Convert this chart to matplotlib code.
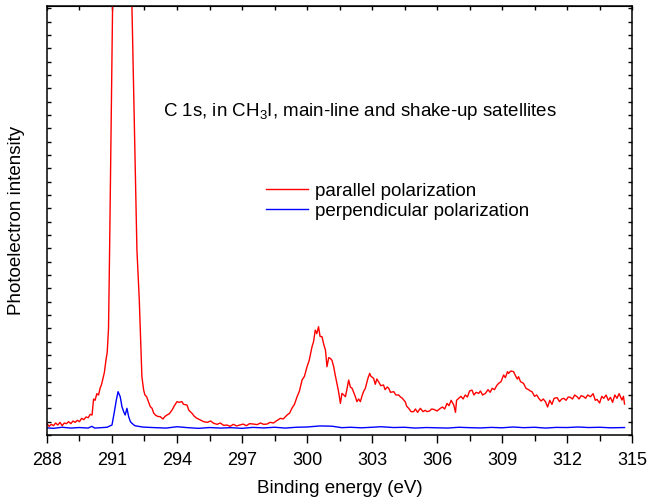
import matplotlib.pyplot as plt
from matplotlib.ticker import MultipleLocator, NullFormatter

plt.rcParams['font.family'] = ['Liberation Sans', 'DejaVu Sans']
plt.rcParams['mathtext.default'] = 'regular'

# parallel polarization (binding energy eV, intensity arb. units)
par_e = [287.90, 288.00, 288.10, 288.20, 288.30, 288.40, 288.50, 288.60, 288.70, 288.80,
         288.90, 289.00, 289.10, 289.20, 289.30, 289.40, 289.50, 289.60, 289.70, 289.80,
         289.90, 290.00, 290.08, 290.15, 290.22, 290.30, 290.38, 290.45, 290.52, 290.58,
         290.65, 290.72, 290.78, 290.84, 290.89, 291.03, 291.45, 291.92, 292.15, 292.26,
         292.38, 292.46, 292.52, 292.60, 292.68, 292.77, 292.85, 292.92, 293.00, 293.10,
         293.23, 293.35, 293.45, 293.54, 293.65, 293.77, 293.88, 294.00, 294.10, 294.23,
         294.30, 294.46, 294.55, 294.69, 294.80, 294.92, 295.05, 295.23, 295.40, 295.55,
         295.69, 295.85, 296.00, 296.15, 296.30, 296.45, 296.60, 296.75, 296.90, 297.05,
         297.20, 297.35, 297.53, 297.70, 297.85, 298.00, 298.15, 298.30, 298.45, 298.60,
         298.77, 298.90, 299.00, 299.08, 299.20, 299.30, 299.42, 299.54, 299.65, 299.77,
         299.88, 300.00, 300.10, 300.23, 300.30, 300.38, 300.45, 300.53, 300.60, 300.69,
         300.77, 300.85, 300.92, 301.00, 301.07, 301.15, 301.23, 301.30, 301.38, 301.45,
         301.54, 301.61, 301.70, 301.77, 301.85, 301.92, 302.00, 302.08, 302.15, 302.23,
         302.30, 302.38, 302.46, 302.55, 302.62, 302.69, 302.80, 302.89, 302.95, 303.07,
         303.15, 303.22, 303.30, 303.40, 303.53, 303.60, 303.70, 303.77, 303.85, 304.00,
         304.10, 304.23, 304.30, 304.40, 304.46, 304.53, 304.60, 304.69, 304.80, 304.92,
         305.00, 305.10, 305.23, 305.35, 305.45, 305.54, 305.65, 305.75, 305.85, 306.00,
         306.15, 306.25, 306.35, 306.46, 306.55, 306.65, 306.77, 306.85, 306.90, 307.00,
         307.10, 307.20, 307.30, 307.40, 307.50, 307.61, 307.70, 307.80, 307.92, 308.00,
         308.10, 308.23, 308.35, 308.45, 308.54, 308.65, 308.75, 308.84, 308.95, 309.07,
         309.15, 309.25, 309.30, 309.40, 309.53, 309.60, 309.70, 309.76, 309.85, 309.99,
         310.10, 310.22, 310.30, 310.38, 310.50, 310.60, 310.69, 310.80, 310.90, 311.00,
         311.10, 311.20, 311.30, 311.40, 311.54, 311.65, 311.75, 311.85, 311.95, 312.05,
         312.15, 312.25, 312.35, 312.46, 312.55, 312.65, 312.77, 312.85, 312.95, 313.08,
         313.20, 313.30, 313.38, 313.50, 313.60, 313.69, 313.80, 313.90, 314.00, 314.10,
         314.20, 314.30, 314.40, 314.53, 314.60, 314.65]
par_i = [70, 85, 65, 80, 70, 90, 75, 95, 70, 90,
         85, 100, 85, 105, 95, 110, 100, 125, 115, 135,
         130, 155, 150, 270, 260, 310, 300, 350, 380, 420,
         470, 560, 620, 800, 1390, 3217, 14000, 3217, 1390, 1012,
         437, 338, 300, 287, 250, 212, 200, 165, 150, 140,
         137, 120, 140, 150, 160, 187, 220, 250, 245, 250,
         230, 225, 185, 163, 140, 125, 115, 100, 95, 105,
         88, 80, 90, 72, 75, 65, 80, 68, 75, 82,
         70, 85, 82, 78, 90, 80, 82, 95, 90, 107,
         125, 120, 137, 150, 165, 200, 230, 287, 330, 412,
         440, 512, 560, 662, 700, 787, 760, 812, 740, 737,
         680, 637, 512, 580, 575, 560, 512, 450, 387, 330,
         237, 312, 300, 287, 350, 412, 360, 350, 320, 287,
         250, 270, 250, 300, 330, 350, 420, 462, 440, 425,
         380, 420, 400, 370, 375, 340, 360, 350, 320, 325,
         300, 300, 287, 275, 262, 250, 215, 200, 175, 175,
         195, 170, 200, 175, 185, 175, 180, 195, 192, 180,
         200, 210, 195, 237, 220, 260, 225, 170, 260, 275,
         290, 270, 300, 285, 330, 337, 300, 320, 312, 330,
         300, 312, 340, 320, 350, 340, 370, 387, 400, 450,
         430, 475, 462, 480, 475, 450, 420, 437, 400, 387,
         350, 340, 330, 325, 290, 300, 275, 255, 270, 250,
         210, 260, 230, 275, 280, 250, 270, 275, 260, 285,
         282, 270, 300, 287, 270, 295, 287, 275, 300, 287,
         310, 260, 267, 240, 290, 275, 300, 260, 282, 245,
         300, 275, 310, 262, 290, 232]

# perpendicular polarization
perp_e = [287.90, 288.30, 288.70, 289.10, 289.50, 289.90, 290.07, 290.20, 290.50, 290.77,
          291.00, 291.10, 291.20, 291.28, 291.38, 291.46, 291.55, 291.61, 291.69, 291.77,
          291.85, 291.92, 292.05, 292.15, 292.40, 292.60, 293.00, 293.50, 294.00, 294.50,
          295.00, 295.50, 296.00, 296.50, 297.00, 297.50, 298.00, 298.50, 299.00, 299.50,
          300.00, 300.60, 301.15, 301.60, 302.00, 302.50, 303.00, 303.40, 304.00, 304.50,
          305.00, 305.50, 306.00, 306.50, 307.00, 307.50, 308.00, 308.50, 309.00, 309.50,
          310.00, 310.50, 311.00, 311.50, 312.00, 312.50, 313.00, 313.50, 314.00, 314.65]
perp_i = [55, 50, 58, 52, 56, 52, 65, 52, 55, 58,
          75, 165, 262, 325, 287, 212, 170, 150, 200, 137,
          100, 88, 70, 67, 60, 58, 55, 52, 62, 55,
          50, 56, 52, 55, 50, 57, 53, 58, 52, 58,
          60, 68, 66, 55, 58, 54, 58, 62, 56, 58,
          52, 56, 54, 52, 58, 55, 53, 57, 54, 60,
          55, 58, 52, 57, 56, 60, 56, 58, 54, 56]

fig = plt.figure(figsize=(6.47, 4.98), dpi=100)
ax = fig.add_axes([0.0726, 0.1265, 0.9044, 0.8615])

ax.plot(par_e, par_i, color='#ff0000', lw=1.0, label='parallel polarization')
ax.plot(perp_e, perp_i, color='#0000ff', lw=1.0, label='perpendicular polarization')

ax.set_xlim(288, 315)
ax.set_ylim(0, 3217)
ax.xaxis.set_major_locator(MultipleLocator(3))
ax.xaxis.set_minor_locator(MultipleLocator(1.5))
ax.yaxis.set_major_locator(MultipleLocator(100))
ax.yaxis.set_major_formatter(NullFormatter())
ax.tick_params(axis='x', which='major', direction='out', length=6, width=1,
               labelsize=13, pad=6, top=False)
ax.tick_params(axis='x', which='minor', direction='out', length=4, width=1, top=False)
ax.tick_params(axis='y', which='major', direction='in', length=3, width=1, left=True, right=True)
for s in ax.spines.values():
    s.set_linewidth(1.1)

# inward ticks on the top edge
sec = ax.secondary_xaxis('top')
sec.xaxis.set_major_locator(MultipleLocator(1.5))
sec.tick_params(direction='in', length=3, width=1, labeltop=False)

ax.set_xlabel('Binding energy (eV)', fontsize=13.5, labelpad=8)
ax.set_ylabel('Photoelectron intensity', fontsize=13.5, labelpad=12)

ax.text(0.198, 0.755, 'C 1s, in CH$_3$I, main-line and shake-up satellites',
        transform=ax.transAxes, fontsize=13.5, va='center', ha='left')

ax.legend(loc='center left', bbox_to_anchor=(0.375, 0.545), frameon=False,
          fontsize=13.5, handlelength=2.2, handletextpad=0.4, labelspacing=0.15,
          borderaxespad=0, borderpad=0)

fig.savefig('out.png', dpi=100)
